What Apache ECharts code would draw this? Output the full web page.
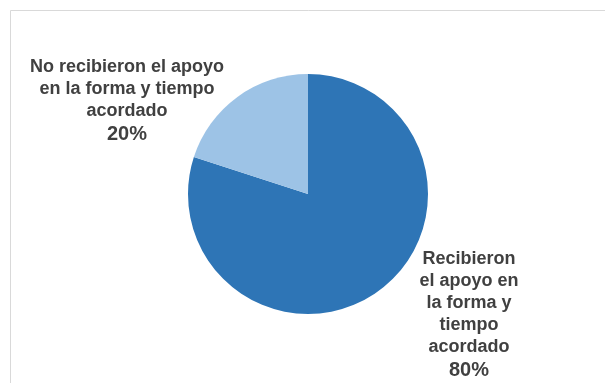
<!DOCTYPE html>
<html>
<head>
<meta charset="utf-8">
<script src="https://cdn.jsdelivr.net/npm/echarts@6/dist/echarts.min.js"></script>
<style>
  html, body { margin: 0; padding: 0; background: #fff; }
  #pie { width: 605px; height: 383px; }
</style>
</head>
<body>
<div id="pie"></div>
<script>
var myChart = echarts.init(document.getElementById('pie'));

var categories = [
  'Recibieron\nel apoyo en\nla forma y\ntiempo\nacordado',
  'No recibieron el apoyo\nen la forma y tiempo\nacordado'
];
var values = [80, 20];
var colors = ['#2E75B6', '#9DC3E6'];

var data = categories.map(function (name, i) {
  return { name: name, value: values[i], itemStyle: { color: colors[i] } };
});

var option = {
  animation: false,
  backgroundColor: '#fff',
  graphic: [
    {
      type: 'rect',
      shape: { x: 10.5, y: 10.5, width: 700, height: 500 },
      style: { fill: 'none', stroke: '#d9d9d9', lineWidth: 1 },
      silent: true
    }
  ],
  series: [
    {
      type: 'pie',
      center: [308, 194],
      radius: 120,
      startAngle: 90,
      clockwise: true,
      data: data,
      itemStyle: { borderWidth: 0 },
      label: {
        show: true,
        formatter: '{t|{b}}\n{p|{d}%}',
        color: '#404040',
        fontFamily: 'Liberation Sans, Arial, sans-serif',
        fontWeight: 'bold',
        align: 'center',
        overflow: 'none',
        width: 260,
        rich: {
          t: { fontSize: 18, lineHeight: 22, fontWeight: 'bold', color: '#404040', align: 'center' },
          p: { fontSize: 20, lineHeight: 23, fontWeight: 'bold', color: '#404040', align: 'center' }
        }
      },
      labelLine: { show: false },
      labelLayout: function (params) {
        if (params.dataIndex === 0) {
          return { x: 469, y: 315, align: 'center', verticalAlign: 'middle' };
        }
        return { x: 127, y: 101, align: 'center', verticalAlign: 'middle' };
      },
      emphasis: { disabled: true }
    }
  ]
};

myChart.setOption(option);
</script>
</body>
</html>
